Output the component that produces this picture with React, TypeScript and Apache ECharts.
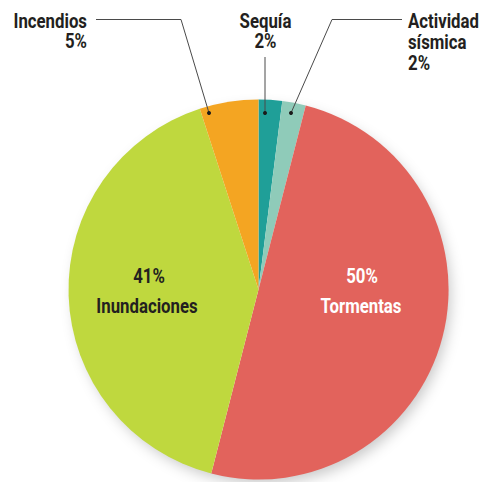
import React, { useEffect, useRef } from "react";
import * as echarts from "echarts";

const categories = ["Sequía", "Actividad sísmica", "Tormentas", "Inundaciones", "Incendios"];
const values = [2, 2, 50, 41, 5];
const colors = ["#1f9f98", "#8fcbb9", "#e2635c", "#bfd83e", "#f4a522"];

const FONT = "Roboto, 'Noto Sans', sans-serif";
const SX = 0.8;
const CX = 258.5;
const CY = 289.5;
const R = 190;

export default function App() {
  const ref = useRef<HTMLDivElement>(null);
  useEffect(() => {
    document.body.style.margin = "0";
    const chart = echarts.init(ref.current!, undefined, { renderer: "svg" });
    const pct = (i: number) => `${values[i]}%`;
    const txt = (text: string, x: number, y: number, align: string, fill = "#231f20") => ({
      type: "text",
      x,
      y,
      scaleX: SX,
      z: 100,
      style: {
        text,
        fontFamily: FONT,
        fontWeight: "bold",
        fontSize: 21,
        fill,
        align,
        verticalAlign: "middle",
      },
    });
    const lineStyle = { stroke: "#4a4a4a", lineWidth: 1, fill: null };
    const dot = (x: number, y: number) => ({
      type: "circle",
      shape: { cx: x, cy: y, r: 2 },
      style: { fill: "#1a1a1a" },
      z: 100,
    });
    const [w1, w2] = categories[1].split(" ");
    chart.setOption({
      animation: false,
      graphic: [
        {
          type: "circle",
          z: -10,
          shape: { cx: CX, cy: CY, r: R - 2 },
          style: {
            fill: "#ffffff",
            shadowBlur: 14,
            shadowOffsetX: 4,
            shadowOffsetY: 6,
            shadowColor: "rgba(0,0,0,0.22)",
          },
        },
        txt(categories[4], 87, 20.5, "right"),
        txt(pct(4), 87, 41, "right"),
        txt(categories[0], 265.5, 20.5, "center"),
        txt(pct(0), 265.5, 41, "center"),
        txt(w1, 408, 20.5, "left"),
        txt(w2, 408, 41.5, "left"),
        txt(pct(1), 408, 63, "left"),
        txt(pct(3), 149, 276, "center"),
        txt(categories[3], 147, 306, "center"),
        txt(pct(2), 362, 276, "center", "#ffffff"),
        txt(categories[2], 361, 306, "center", "#ffffff"),
        {
          type: "polyline",
          shape: { points: [[96, 19.5], [181, 19.5], [209, 113]] },
          style: lineStyle,
          z: 100,
        },
        dot(209, 113),
        {
          type: "line",
          shape: { x1: 265, y1: 57, x2: 265, y2: 113 },
          style: lineStyle,
          z: 100,
        },
        dot(265, 113),
        {
          type: "polyline",
          shape: { points: [[402, 19.5], [332, 19.5], [291, 113]] },
          style: lineStyle,
          z: 100,
        },
        dot(291, 113),
      ],
      series: [
        {
          type: "pie",
          center: [CX, CY],
          radius: [0, R],
          startAngle: 90,
          clockwise: true,
          silent: true,
          label: { show: false },
          labelLine: { show: false },
          itemStyle: { borderWidth: 0 },
          data: categories.map((name, i) => ({
            name,
            value: values[i],
            itemStyle: { color: colors[i] },
          })),
        },
      ],
    });
    return () => chart.dispose();
  }, []);
  return <div ref={ref} style={{ width: 486, height: 482 }} />;
}
